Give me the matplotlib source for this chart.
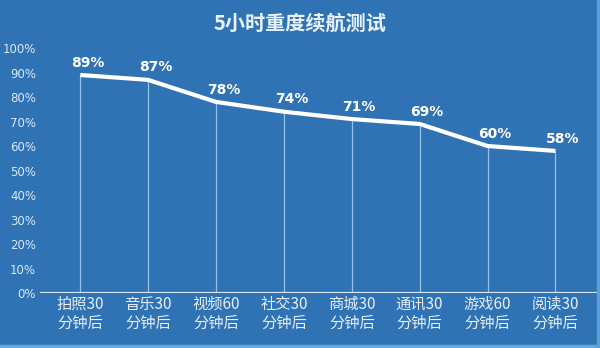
import matplotlib.pyplot as plt
import numpy as np

plt.rcParams['font.family'] = ['Noto Sans CJK SC', 'DejaVu Sans']

title = "5小时重度续航测试"
categories = ["拍照30\n分钟后", "音乐30\n分钟后", "视频60\n分钟后", "社交30\n分钟后",
              "商城30\n分钟后", "通讯30\n分钟后", "游戏60\n分钟后", "阅读30\n分钟后"]
battery = [89, 87, 78, 74, 71, 69, 60, 58]
yticks = np.arange(0, 101, 10)

bg = '#3073b5'
fig = plt.figure(figsize=(6, 3.48), dpi=100)
fig.patch.set_facecolor(bg)

# light edge strips of the original image
fig.patches.append(plt.Rectangle((0, 0), 1, 3 / 348, transform=fig.transFigure,
                                 color='#5fa9e0', zorder=0))
fig.patches.append(plt.Rectangle((597 / 600, 0), 3 / 600, 1, transform=fig.transFigure,
                                 color='#5a9fd8', zorder=0))

ax = fig.add_axes([0.067, 0.158, 0.93, 0.704])
ax.set_facecolor(bg)
x = np.arange(len(categories))

ax.vlines(x, 0, battery, color='#94c0ea', linewidth=0.9, zorder=2)
ax.plot(x, battery, color='white', linewidth=3, solid_capstyle='butt', zorder=3)
for xi, v in zip(x, battery):
    ax.text(xi + 0.11, v + 2.2, f"{v}%", color='white', fontsize=10, fontweight='bold',
            ha='center', va='bottom', family='DejaVu Sans')

ax.axhline(0, color='#d6e8f8', linewidth=1.6, zorder=4)
ax.set_xlim(-0.59, 7.63)
ax.set_ylim(0, 100)
ax.set_yticks(yticks)
ax.set_yticklabels([f"{t}%" for t in yticks], color='#d9e8f7', fontsize=8.5,
                   family='DejaVu Sans')
ax.set_xticks(x)
ax.set_xticklabels(categories, color='#e4eef8', fontsize=11, linespacing=1.12)
ax.tick_params(length=0, axis='y', pad=3)
ax.tick_params(length=0, axis='x', pad=2)
for s in ax.spines.values():
    s.set_visible(False)

fig.text(0.5, 0.932, title, color='#e8f2fb', fontsize=14.5, fontweight='bold',
         ha='center', va='center')

fig.savefig("out.png", dpi=100, facecolor=bg)
